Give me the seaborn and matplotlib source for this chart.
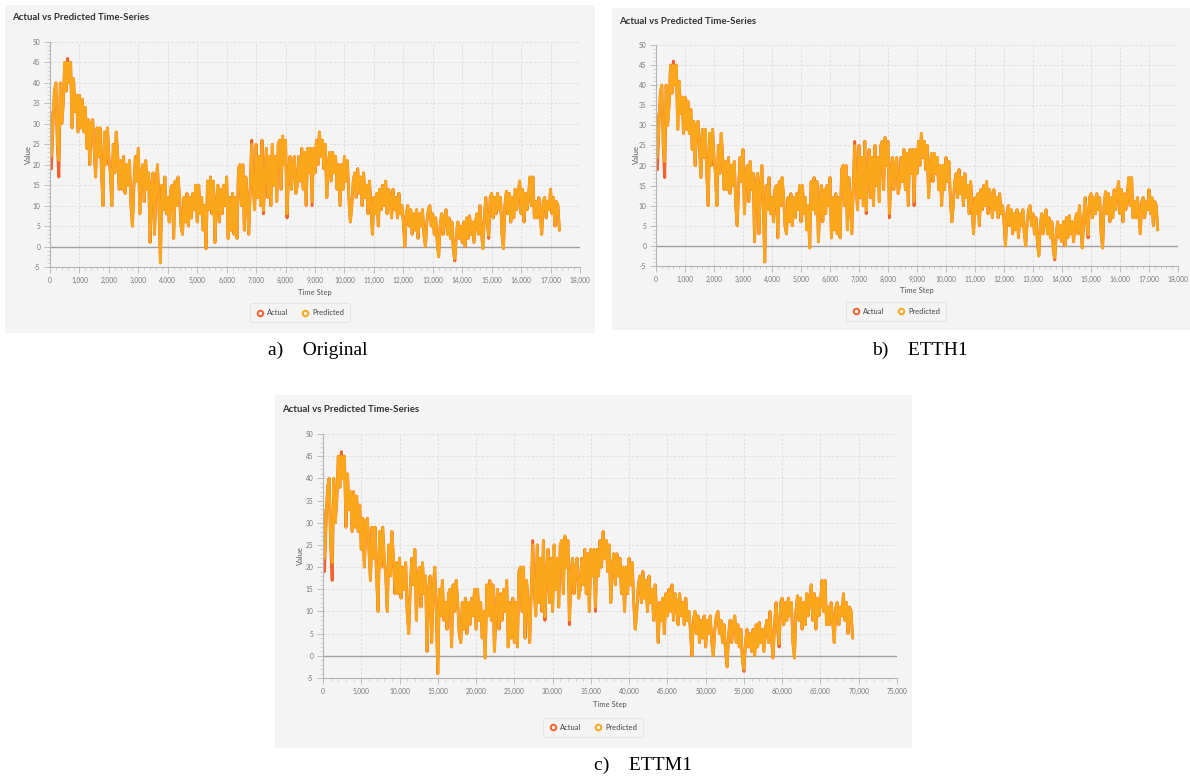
import matplotlib.pyplot as plt
import matplotlib.patches as mpatches
from matplotlib.lines import Line2D
from matplotlib.ticker import MultipleLocator, AutoMinorLocator, StrMethodFormatter
import numpy as np
import pandas as pd
import seaborn as sns

# Values, one every 50 time steps (hourly series)
actual = [
    33, 19, 30, 38, 40, 25, 17, 40, 30, 35, 45, 38, 46, 40, 45, 29, 41, 33, 37, 28,
    37, 29, 36, 28, 34, 24, 31, 20, 30, 31, 24, 17, 29, 22, 29, 18, 10, 28, 20, 29,
    22, 18, 10, 25, 18, 28, 22, 14, 21, 14, 22, 13, 20, 15, 21, 10, 5, 15, 22, 16,
    24, 8, 18, 20, 11, 21, 14, 18, 1, 15, 18, 3, 15, 20, 10, -4, 15, 9, 17, 8,
    12, 6, 14, 15, 2, 16, 10, 17, 12, 5, 3, 12, 6, 13, 5, 12, 7, 13, 9, 15,
    6, 15, 8, 12, 4, 10, -0.5, 16, 9, 17, 8, 16, 1, 10, 15, 6, 14, 8, 15, 10,
    17, 2, 12, 4, 13, 3, 12, 2, 19, 20, 10, 20, 4, 17, 12, 3, 14, 26, 15, 9,
    25, 12, 22, 10, 26, 8, 18, 24, 12, 22, 10, 25, 15, 22, 11, 25, 26, 14, 27, 20,
    26, 7, 18, 22, 14, 20, 22, 13, 15, 22, 16, 24, 14, 23, 10, 24, 18, 24, 10, 24,
    18, 26, 20, 28, 22, 26, 19, 25, 12, 20, 23, 16, 23, 18, 22, 14, 20, 10, 20, 14,
    22, 16, 21, 12, 6, 10, 16, 18, 12, 19, 13, 17, 10, 18, 12, 15, 8, 16, 10, 3,
    12, 8, 13, 5, 14, 9, 15, 10, 16, 8, 14, 12, 7, 14, 9, 12, 7, 13, 8, 10,
    6, 0, 8, 10, 5, 9, 3, 8, 4, 9, 2, 8, 5, 9, 3, 0, 6, 9, 10, 5,
    8, 3, 7, 1, -2.5, 5, 8, 3, 7, 9, 3, 7, 2, 6, -1, -3.5, 3, 6, 2, 5,
    1, 6, 0, 7, 2, 7.5, 3, 6, 1, 6, 8, 3, 10, 4, -0.5, 7, 12, 6, 2, 12,
    13, 7, 12, 8, 13, 9, 12, 3, -0.5, 10, 13.5, 8, 13, 6, 12, 7, 14, 9, 13, 16,
    8, 14, 6, 13, 9, 12, 17, 10, 17, 7, 11, 7, 12, 8, 3, 11, 12, 7, 11, 9,
    14, 8, 12, 5, 11, 10, 4,
]
# points where the prediction visibly misses the actual value
pred_adjust = {1: 22, 6: 21, 12: 45, 137: 25, 145: 8.8, 161: 8, 178: 11, 275: -3, 298: 2.7}
predicted = [pred_adjust.get(i, v) for i, v in enumerate(actual)]

panel_letters = ['a)', 'b)', 'c)']
panel_names = ['Original', 'ETTH1', 'ETTM1']
step_sizes = [50, 50, 200]
x_limits = [18000, 18000, 75000]
x_tick_steps = [1000, 1000, 5000]
title = 'Actual vs Predicted Time-Series'

W, H = 1190, 781
BG = '#f4f4f4'
RED = '#f3622d'
ORANGE = '#fba71b'

# pixel positions of each panel in the composite
layout = [
    dict(bg=(5, 5, 595, 333), plot=(50, 42, 580, 267), title=(12, 18), ylab=(28, 155),
         xlab=(315, 292), legend=(300, 313), caption=(318, 350)),
    dict(bg=(612, 8, 1190, 330), plot=(656, 45, 1178, 266), title=(619, 21), ylab=(636, 155),
         xlab=(917, 290), legend=(896, 311), caption=(920, 350)),
    dict(bg=(275, 395, 912, 748), plot=(323, 434, 897, 678), title=(282, 409), ylab=(300, 556),
         xlab=(610, 705), legend=(593, 727), caption=(643, 765)),
]

def fx(x): return x / W
def fy(y): return 1 - y / H

sns.set_style('ticks')
plt.rcParams['font.family'] = ['Lato', 'DejaVu Sans']
plt.rcParams['axes.unicode_minus'] = False

fig = plt.figure(figsize=(W / 100, H / 100), dpi=100)
fig.patch.set_facecolor('white')

for i, lay in enumerate(layout):
    x0, y0, x1, y1 = lay['bg']
    fig.patches.append(mpatches.Rectangle((fx(x0), fy(y1)), (x1 - x0) / W, (y1 - y0) / H,
                                          transform=fig.transFigure, facecolor=BG,
                                          edgecolor='none', zorder=-5))
    px0, py0, px1, py1 = lay['plot']
    ax = fig.add_axes([fx(px0), fy(py1), (px1 - px0) / W, (py1 - py0) / H])
    ax.set_facecolor('none')

    df = pd.DataFrame({'step': np.arange(len(actual)) * step_sizes[i],
                       'Actual': actual, 'Predicted': predicted})
    sns.lineplot(data=df, x='step', y='Actual', ax=ax, color=RED, lw=2.1, estimator=None)
    sns.lineplot(data=df, x='step', y='Predicted', ax=ax, color=ORANGE, lw=1.9, estimator=None)
    ax.axhline(0, color='#a0a0a0', lw=1.0, zorder=1)

    ax.set_xlim(0, x_limits[i])
    ax.set_ylim(-5, 50)
    ax.xaxis.set_major_locator(MultipleLocator(x_tick_steps[i]))
    ax.xaxis.set_minor_locator(AutoMinorLocator(5))
    ax.yaxis.set_major_locator(MultipleLocator(5))
    ax.yaxis.set_minor_locator(AutoMinorLocator(5))
    ax.xaxis.set_major_formatter(StrMethodFormatter('{x:,.0f}'))
    ax.grid(True, which='major', color='#dcdcdc', ls=(0, (3, 2)), lw=0.6)
    ax.set_axisbelow(True)
    ax.set_xlabel('')
    ax.set_ylabel('')
    for s in ['top', 'right']:
        ax.spines[s].set_visible(False)
    for s in ['left', 'bottom']:
        ax.spines[s].set_color('#b4b4b4')
        ax.spines[s].set_linewidth(0.8)
    ax.tick_params(which='major', length=4, width=0.6, color='#b4b4b4',
                   labelsize=4.8, labelcolor='#777777', pad=3)
    ax.tick_params(which='minor', length=2, width=0.5, color='#c4c4c4')

    fig.text(fx(lay['title'][0]), fy(lay['title'][1]), title, fontsize=6.9,
             fontweight='bold', color='#333333', ha='left', va='center')
    fig.text(fx(lay['ylab'][0]), fy(lay['ylab'][1]), 'Value', fontsize=5.5,
             color='#555555', rotation=90, ha='center', va='center')
    fig.text(fx(lay['xlab'][0]), fy(lay['xlab'][1]), 'Time Step', fontsize=5.5,
             color='#555555', ha='center', va='center')

    handles = [Line2D([], [], marker='o', ls='none', mfc='none', mec=RED, mew=1.4, ms=4),
               Line2D([], [], marker='o', ls='none', mfc='none', mec=ORANGE, mew=1.4, ms=4)]
    leg = fig.legend(handles, ['Actual', 'Predicted'], loc='center',
                     bbox_to_anchor=(fx(lay['legend'][0]), fy(lay['legend'][1])),
                     ncol=2, fontsize=5.4, frameon=True, handletextpad=0.4,
                     columnspacing=1.8, borderpad=0.8, handlelength=1.0)
    leg.get_frame().set_facecolor(BG)
    leg.get_frame().set_edgecolor('#e2e2e2')
    leg.get_frame().set_linewidth(0.8)
    for t in leg.get_texts():
        t.set_color('#444444')

    fig.text(fx(lay['caption'][0]), fy(lay['caption'][1]),
             panel_letters[i] + '    ' + panel_names[i], fontsize=14,
             family='Liberation Serif', ha='center', va='center', color='black')

fig.savefig('out.png', dpi=100, facecolor='white')
